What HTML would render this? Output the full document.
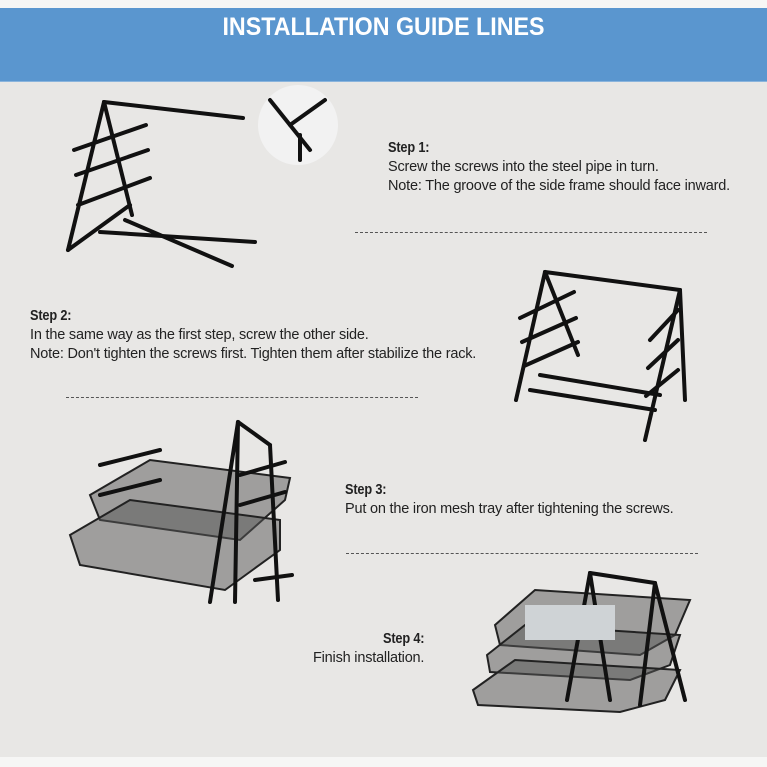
<!DOCTYPE html>
<html><head><meta charset="utf-8"><style>
html,body{margin:0;padding:0}
body{width:767px;height:767px;background:#e8e7e5;position:relative;overflow:hidden;font-family:"Liberation Sans",sans-serif;color:#222}
.top{position:absolute;left:0;top:0;width:767px;height:8px;background:#f6f6f5}
.hdr{position:absolute;left:0;top:8px;width:767px;height:73px;background:#5a96cf;border-bottom:1px solid #8ab4dc}
.hdr div{position:absolute;left:0;width:767px;top:5px;text-align:center;color:#fff;font-weight:bold;font-size:25px;transform:scaleX(0.93)}
.t{position:absolute;font-size:14.5px;line-height:19px;letter-spacing:-0.2px;white-space:nowrap}
.s{font-weight:bold;font-size:15px;transform:scaleX(0.85);transform-origin:left;display:inline-block}
.d{position:absolute;border-top:1px dashed #555;height:0}
.bot{position:absolute;left:0;top:757px;width:767px;height:10px;background:#f6f6f5}
svg{position:absolute;left:0;top:0}
</style></head><body>
<div class="top"></div>
<div class="hdr"><div>INSTALLATION GUIDE LINES</div></div>

<div class="t" style="left:388px;top:138px"><span class="s">Step 1:</span><br>Screw the screws into the steel pipe in turn.<br>Note: The groove of the side frame should face inward.</div>
<div class="d" style="left:355px;top:232px;width:352px"></div>

<div class="t" style="left:30px;top:306px"><span class="s">Step 2:</span><br>In the same way as the first step, screw the other side.<br>Note: Don't tighten the screws first. Tighten them after stabilize the rack.</div>
<div class="d" style="left:66px;top:397px;width:352px"></div>

<div class="t" style="left:345px;top:480px"><span class="s">Step 3:</span><br>Put on the iron mesh tray after tightening the screws.</div>
<div class="d" style="left:346px;top:553px;width:352px"></div>

<div class="t" style="left:313px;top:629px"><span class="s" style="margin-left:70px">Step 4:</span><br>Finish installation.</div>
<div class="bot"></div>

<svg width="767" height="767" stroke="#111" stroke-linecap="round" fill="none">
<g stroke-width="4">
<line x1="68" y1="250" x2="104" y2="102"/><line x1="104" y1="102" x2="132" y2="215"/>
<line x1="104" y1="102" x2="243" y2="118"/>
<line x1="74" y1="150" x2="146" y2="125"/><line x1="76" y1="175" x2="148" y2="150"/><line x1="78" y1="205" x2="150" y2="178"/>
<line x1="68" y1="250" x2="130" y2="205"/>
<line x1="100" y1="232" x2="255" y2="242"/><line x1="125" y1="220" x2="232" y2="266"/>
</g>
<circle cx="298" cy="125" r="40" fill="#f2f2f2" stroke="none"/>
<g stroke-width="4"><line x1="270" y1="100" x2="310" y2="150"/><line x1="290" y1="125" x2="325" y2="100"/><line x1="300" y1="135" x2="300" y2="160"/></g>
<g stroke-width="4">
<line x1="516" y1="400" x2="545" y2="272"/><line x1="545" y1="272" x2="578" y2="355"/>
<line x1="545" y1="272" x2="680" y2="290"/>
<line x1="680" y1="290" x2="645" y2="440"/><line x1="680" y1="290" x2="685" y2="400"/>
<line x1="520" y1="318" x2="574" y2="292"/><line x1="522" y1="342" x2="576" y2="318"/><line x1="524" y1="366" x2="578" y2="342"/>
<line x1="650" y1="340" x2="678" y2="310"/><line x1="648" y1="368" x2="678" y2="340"/><line x1="646" y1="396" x2="678" y2="370"/>
<line x1="540" y1="375" x2="660" y2="395"/><line x1="530" y1="390" x2="655" y2="410"/>
</g>
<g stroke="#222" stroke-width="2" fill="#555" fill-opacity=".5">
<path d="M90 495 L150 460 L290 478 L285 500 L240 540 L100 520 Z"/>
<path d="M70 535 L130 500 L280 520 L280 550 L225 590 L80 565 Z"/>
</g>
<g stroke-width="4">
<line x1="210" y1="602" x2="238" y2="422"/><line x1="238" y1="422" x2="270" y2="445"/><line x1="270" y1="445" x2="278" y2="600"/>
<line x1="238" y1="422" x2="235" y2="602"/>
<line x1="100" y1="465" x2="160" y2="450"/><line x1="100" y1="495" x2="160" y2="480"/><line x1="240" y1="475" x2="285" y2="462"/><line x1="240" y1="505" x2="285" y2="492"/>
<line x1="255" y1="580" x2="292" y2="575"/>
</g>
<g stroke="#222" stroke-width="2" fill="#555" fill-opacity=".5">
<path d="M495 625 L535 590 L690 600 L675 635 L640 655 L500 645 Z"/>
<path d="M487 655 L525 625 L680 635 L670 665 L630 680 L490 672 Z"/>
<path d="M473 690 L515 660 L680 670 L665 700 L620 712 L478 705 Z"/>
</g>
<g stroke-width="4">
<line x1="567" y1="700" x2="590" y2="573"/><line x1="590" y1="573" x2="610" y2="700"/>
<line x1="590" y1="573" x2="655" y2="583"/><line x1="655" y1="583" x2="640" y2="705"/><line x1="655" y1="583" x2="685" y2="700"/>
</g>
<rect x="525" y="605" width="90" height="35" fill="#cfd3d6" stroke="none"/>
</svg>
</body></html>
